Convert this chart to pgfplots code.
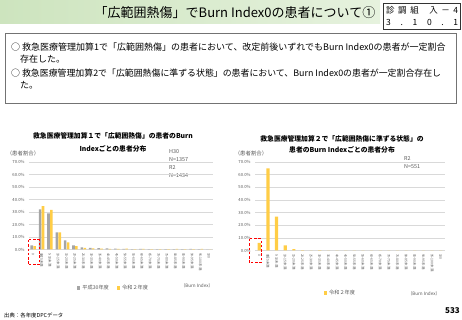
\documentclass[border=0pt]{standalone}
\usepackage{pgfplots}
\pgfplotsset{compat=1.18}
\usepackage{fontspec}
\setmainfont{Noto Sans CJK JP}
\definecolor{barG}{RGB}{165,165,165}
\definecolor{barY}{RGB}{255,205,70}
\definecolor{gridc}{RGB}{217,217,217}
\definecolor{tickc}{RGB}{89,89,89}
\definecolor{bandA}{RGB}{205,228,190}
\definecolor{bandB}{RGB}{230,242,222}
\newcommand{\fs}[1]{\fontsize{#1}{#1}\selectfont}
\pgfplotsset{
  burnstyle/.style={
    scale only axis,
    ybar,
    ymin=0, ymax=70, ytick={0,10,...,70},
    xmin=-0.5, xmax=21.5, xtick={0,...,21},
    xticklabels={0,0超5未満,5-10未満,10-15未満,15-20未満,20-25未満,25-30未満,30-35未満,35-40未満,40-45未満,45-50未満,50-55未満,55-60未満,60-65未満,65-70未満,70-75未満,75-80未満,80-85未満,85-90未満,90-95未満,95-100未満,100},
    axis x line*=bottom, axis y line*=left,
    y axis line style={draw=none},
    x axis line style={draw=gridc, line width=0.5pt, -},
    major tick length=0pt,
    ymajorgrids, grid style={gridc, line width=0.4pt},
    /pgf/number format/assume math mode=true,
    yticklabel={\pgfmathprintnumber[fixed,fixed zerofill,precision=1]{\tick}\%},
    y tick label style={font=\fs{4.2}, color=tickc, xshift=-1pt},
    x tick label style={font=\fs{3.4}, color=tickc, rotate=-90, anchor=west, xshift=0pt},
  },
  sq/.style={legend image code/.code={\fill[#1] (0pt,-1.6pt) rectangle (3.2pt,1.6pt);}},
}
\begin{document}
\begin{tikzpicture}
\path[use as bounding box] (0pt,0pt) rectangle (462pt,320pt);
% title band
\shade[left color=bandA, right color=bandB] (0pt,296pt) rectangle (380pt,320pt);
\node[anchor=center, inner sep=0] at (235pt,307pt) {\fs{13}「広範囲熱傷」でBurn Index0の患者について①};
% id box
\draw[line width=0.8pt, black!80, fill=white] (383pt,291pt) rectangle (460pt,317pt);
\node[anchor=west, inner sep=0] at (386pt,310pt) {\fs{8.5}\makebox[72pt][s]{診\hfill{}調\hfill{}組\hfill\hfill\hfill{}入\hfill{}－\hfill{}4}};
\node[anchor=west, inner sep=0] at (386pt,298pt) {\fs{8.5}\makebox[72pt][s]{3\hfill{}.\hfill{}1\hfill{}0\hfill{}.\hfill{}1}};
% text box
\draw[line width=0.6pt, black!55] (5pt,217pt) rectangle (456pt,287pt);
\node[anchor=west, inner sep=0] at (11pt,273pt) {\fs{9}○ 救急医療管理加算1で「広範囲熱傷」の患者において、改定前後いずれでもBurn Index0の患者が一定割合};
\node[anchor=west, inner sep=0] at (20pt,261pt) {\fs{9}存在した。};
\node[anchor=west, inner sep=0] at (11pt,247pt) {\fs{8.9}○ 救急医療管理加算2で「広範囲熱傷に準ずる状態」の患者において、Burn Index0の患者が一定割合存在し};
\node[anchor=west, inner sep=0] at (20pt,235pt) {\fs{9}た。};
% chart titles
\node[anchor=center, inner sep=0] at (113pt,184pt) {\fs{6.8}\bfseries 救急医療管理加算１で「広範囲熱傷」の患者のBurn};
\node[anchor=center, inner sep=0] at (113pt,171pt) {\fs{6.8}\bfseries Indexごとの患者分布};
\node[anchor=center, inner sep=0] at (342pt,181pt) {\fs{6.8}\bfseries 救急医療管理加算２で「広範囲熱傷に準ずる状態」の};
\node[anchor=center, inner sep=0] at (342pt,170pt) {\fs{6.8}\bfseries 患者のBurn Indexごとの患者分布};
% y labels
\node[anchor=center, inner sep=0, text=tickc] at (23pt,167pt) {\fs{5.4}（患者割合）};
\node[anchor=center, inner sep=0, text=tickc] at (251pt,167pt) {\fs{5.4}（患者割合）};
% N annotations
\node[anchor=west, inner sep=0, text=tickc] at (169pt,168pt) {\fs{5.4}H30};
\node[anchor=west, inner sep=0, text=tickc] at (169pt,160pt) {\fs{5.4}N=1357};
\node[anchor=west, inner sep=0, text=tickc] at (169pt,152pt) {\fs{5.4}R2};
\node[anchor=west, inner sep=0, text=tickc] at (169pt,144pt) {\fs{5.4}N=1434};
\node[anchor=west, inner sep=0, text=tickc] at (404pt,161pt) {\fs{5.4}R2};
\node[anchor=west, inner sep=0, text=tickc] at (404pt,153pt) {\fs{5.4}N=551};
% Left chart
\begin{axis}[burnstyle, at={(29pt,70.5pt)}, anchor=south west,
  width=184pt, height=87.5pt,
  bar width=2.6pt, ybar=0.3pt,
  legend style={at={(0.46,-0.44)}, anchor=center, draw=none, fill=none,
    font=\fs{5.2}, text=tickc, legend columns=2,
    /tikz/every even column/.append style={column sep=6pt}},
]
\addplot[fill=barG, draw=none, sq] coordinates {
(0,3.2) (1,32.0) (2,28.8) (3,13.6) (4,7.2) (5,3.2) (6,1.6) (7,1.3) (8,1.0) (9,0.8) (10,0.6)
(11,0.4) (12,0.3) (13,0.4) (14,0.2) (15,0.2) (16,0.2) (17,0.3) (18,0.2) (19,0.4) (20,0.2) (21,0.1)};
\addlegendentry{平成30年度}
\addplot[fill=barY, draw=none, sq] coordinates {
(0,2.7) (1,34.7) (2,31.7) (3,13.6) (4,5.6) (5,2.7) (6,1.3) (7,0.8) (8,0.7) (9,0.5) (10,0.5)
(11,0.6) (12,0.3) (13,0.5) (14,0.2) (15,0.3) (16,0.2) (17,0.4) (18,0.2) (19,0.2) (20,0.4) (21,0.0)};
\addlegendentry{令和２年度}
\end{axis}
% Right chart
\begin{axis}[burnstyle, at={(255pt,69.5pt)}, anchor=south west,
  width=190pt, height=88.5pt,
  bar width=3.2pt,
  legend style={at={(0.45,-0.48)}, anchor=center, draw=none, fill=none,
    font=\fs{5.2}, text=tickc},
]
\addplot[fill=barY, draw=none, sq] coordinates {
(0,6.1) (1,65.0) (2,26.7) (3,4.0) (4,1.1) (5,0.3) (6,0.0) (7,0.3) (8,0) (9,0) (10,0)
(11,0) (12,0) (13,0) (14,0) (15,0) (16,0) (17,0) (18,0) (19,0) (20,0) (21,0)};
\addlegendentry{令和２年度}
\end{axis}
% Burn Index labels
\node[anchor=center, inner sep=0, text=tickc] at (197pt,34pt) {\fs{4.6}（Burn Index）};
\node[anchor=center, inner sep=0, text=tickc] at (424pt,26pt) {\fs{4.6}（Burn Index）};
% red dashed boxes
\draw[red, line width=1pt, dash pattern=on 2.5pt off 1.8pt] (28pt,80pt) rectangle (39pt,55pt);
\draw[red, line width=1pt, dash pattern=on 2.5pt off 1.8pt] (249pt,81pt) rectangle (261pt,57pt);
% footer
\node[anchor=west, inner sep=0] at (4pt,5pt) {\fs{5.4}出典：各年度DPCデータ};
\node[anchor=east, inner sep=0] at (460pt,9pt) {\fs{8}\bfseries 533};
\end{tikzpicture}
\end{document}
